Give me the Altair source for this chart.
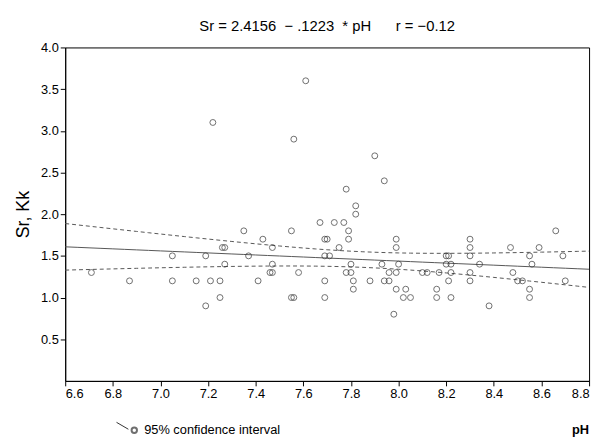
import altair as alt
import pandas as pd
import numpy as np

ph = [6.71, 6.87, 7.05, 7.05, 7.15, 7.19, 7.19, 7.21, 7.22, 7.25, 7.25, 7.26, 7.27, 7.27,
      7.35, 7.37, 7.41, 7.43, 7.47, 7.47, 7.46, 7.47, 7.55, 7.55, 7.56, 7.56, 7.58, 7.61,
      7.67, 7.69, 7.71, 7.69, 7.70, 7.69, 7.69, 7.73, 7.77, 7.78, 7.79, 7.79, 7.75, 7.80,
      7.78, 7.80, 7.81, 7.81, 7.82, 7.82, 7.88, 7.90, 7.93, 7.94, 7.94, 7.96, 7.96, 7.99,
      7.99, 7.99, 8.00, 7.99, 7.98, 8.03, 8.02, 8.05, 8.10, 8.12, 8.16, 8.16, 8.17, 8.20,
      8.21, 8.20, 8.22, 8.21, 8.22, 8.22, 8.30, 8.30, 8.30, 8.30, 8.30, 8.34, 8.38, 8.47,
      8.48, 8.50, 8.52, 8.55, 8.56, 8.55, 8.55, 8.59, 8.66, 8.69, 8.70]
sr = [1.3, 1.2, 1.5, 1.2, 1.2, 1.5, 0.9, 1.2, 3.1, 1.2, 1.0, 1.6, 1.6, 1.4,
      1.8, 1.5, 1.2, 1.7, 1.6, 1.4, 1.3, 1.3, 1.8, 1.0, 1.0, 2.9, 1.3, 3.6,
      1.9, 1.5, 1.5, 1.7, 1.7, 1.2, 1.0, 1.9, 1.9, 2.3, 1.8, 1.7, 1.6, 1.4,
      1.3, 1.3, 1.2, 1.1, 2.1, 2.0, 1.2, 2.7, 1.4, 2.4, 1.2, 1.2, 1.3, 1.7,
      1.6, 1.3, 1.4, 1.1, 0.8, 1.1, 1.0, 1.0, 1.3, 1.3, 1.1, 1.0, 1.3, 1.5,
      1.5, 1.4, 1.4, 1.2, 1.3, 1.0, 1.2, 1.7, 1.6, 1.5, 1.3, 1.4, 0.9, 1.6,
      1.3, 1.2, 1.2, 1.5, 1.4, 1.1, 1.0, 1.6, 1.8, 1.5, 1.2]
intercept, slope = 2.4156, -0.1223
x_ticks = [6.6, 6.8, 7.0, 7.2, 7.4, 7.6, 7.8, 8.0, 8.2, 8.4, 8.6, 8.8]
y_ticks = [0.5, 1.0, 1.5, 2.0, 2.5, 3.0, 3.5, 4.0]

pts = pd.DataFrame({"ph": ph, "sr": sr})

# regression line with 95% confidence band
x = np.array(ph); y = np.array(sr); n = len(x)
resid = y - (intercept + slope * x)
s = np.sqrt((resid ** 2).sum() / (n - 2))
grid = np.linspace(6.6, 8.8, 45)
se = s * np.sqrt(1 / n + (grid - x.mean()) ** 2 / ((x - x.mean()) ** 2).sum())
fit = intercept + slope * grid
band = pd.DataFrame({"ph": grid, "fit": fit, "lo": fit - 1.99 * se, "hi": fit + 1.99 * se})

xs = alt.X("ph:Q", scale=alt.Scale(domain=[6.6, 8.8], nice=False),
           axis=alt.Axis(values=x_ticks, format=".1f", title=None, grid=False,
                         labelFont="Liberation Sans", labelFontSize=13, labelColor="black",
                         tickColor="black", domainColor="black"))
ys = alt.Y("sr:Q", scale=alt.Scale(domain=[0.5, 4.0], nice=False),
           axis=alt.Axis(values=y_ticks, format=".1f", title="Sr, Kk", grid=False,
                         titleFont="Liberation Sans", titleFontSize=18, titleFontWeight="normal",
                         titleColor="black", titlePadding=8,
                         labelFont="Liberation Sans", labelFontSize=13, labelColor="black",
                         tickColor="black", domainColor="black"))

points = alt.Chart(pts).mark_point(shape="circle", size=36, color="#333", strokeWidth=1).encode(x=xs, y=ys)
base = alt.Chart(band).encode(x=alt.X("ph:Q"))
line = base.mark_line(color="#555", strokeWidth=1).encode(y=alt.Y("fit:Q"))
lo = base.mark_line(color="#555", strokeWidth=1, strokeDash=[4, 3]).encode(y=alt.Y("lo:Q"))
hi = base.mark_line(color="#555", strokeWidth=1, strokeDash=[4, 3]).encode(y=alt.Y("hi:Q"))

legend = alt.Chart(pd.DataFrame({"t": ["95% confidence interval"]})).mark_text(
    align="left", baseline="middle", font="Liberation Sans", fontSize=13, color="black").encode(
    text="t:N", x=alt.value(80), y=alt.value(388))
legend_icon = alt.Chart(pd.DataFrame({"a": [0]})).mark_rule(color="#333").encode(
    x=alt.value(52), x2=alt.value(64), y=alt.value(380), y2=alt.value(387))
legend_pt = alt.Chart(pd.DataFrame({"a": [0]})).mark_point(shape="circle", size=30, color="#333").encode(
    x=alt.value(70), y=alt.value(388))
phlab = alt.Chart(pd.DataFrame({"t": ["pH"]})).mark_text(
    align="right", baseline="middle", font="Liberation Sans", fontSize=13, fontWeight="bold",
    color="black").encode(text="t:N", x=alt.value(531), y=alt.value(388))

chart = alt.layer(hi, lo, line, points, legend, legend_icon, legend_pt, phlab).properties(
    width=531, height=338,
    title=alt.TitleParams("Sr = 2.4156\u00a0\u00a0− .1223\u00a0\u00a0* pH\u00a0\u00a0\u00a0\u00a0\u00a0\u00a0r = −0.12",
                          font="Liberation Sans", fontSize=15, fontWeight="normal",
                          color="black", offset=8),
    autosize=alt.AutoSizeParams(type="none"),
    padding={"left": 58, "top": 37, "right": 6, "bottom": 63},
).configure_view(stroke="black", strokeWidth=1)

chart.save("out.html", embed_options={"renderer": "svg", "actions": False})
